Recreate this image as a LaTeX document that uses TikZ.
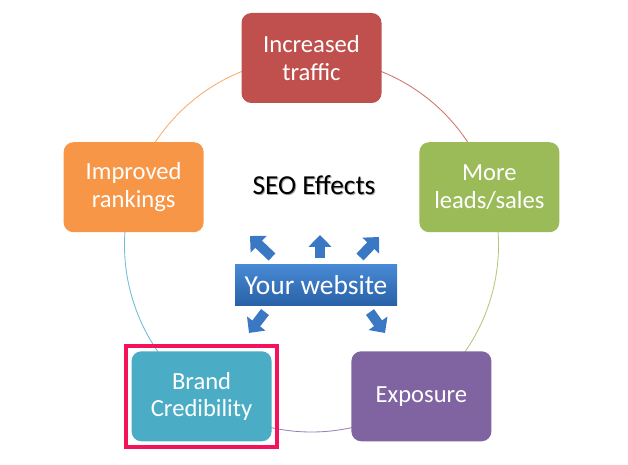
\documentclass[tikz,border=0pt]{standalone}
\usepackage{fontspec}
\setmainfont{Carlito}
\usetikzlibrary{arrows.meta,fit}

\definecolor{trafficred}{HTML}{C0504D}
\definecolor{leadsgreen}{HTML}{9BBB59}
\definecolor{exposurepurple}{HTML}{8064A2}
\definecolor{brandteal}{HTML}{4BACC6}
\definecolor{rankorange}{HTML}{F79646}
\definecolor{webblue}{HTML}{3A78C4}
\definecolor{webtop}{RGB}{72,137,212}
\definecolor{webbottom}{RGB}{40,96,166}
\definecolor{framepink}{HTML}{F2135B}

\tikzset{
  effect/.style={rounded corners=7pt, minimum width=3.5cm, minimum height=2.25cm,
    text=white, align=center, font=\fontsize{17.5}{19.5}\selectfont},
  blockarrow/.style={-{Triangle[width=16pt,length=8.5pt]}, line width=7pt, webblue},
}

\begin{document}
\begin{tikzpicture}
  \useasboundingbox (0,0) rectangle (15.7,11.6);
  \coordinate (c) at (7.7875,5.475);
  % cycle arcs
  \foreach \a/\b/\col in {90/18/trafficred, 18/-54/leadsgreen, -54/-126/exposurepurple,
      -126/-198/brandteal, 162/90/rankorange}
    \draw[\col!80, line width=0.6pt] (c) ++(\a:4.675) arc[start angle=\a, end angle=\b, radius=4.675];
  % effects
  \path (c) ++(90:4.675) node[effect, fill=trafficred] (traffic) {Increased\\traffic};
  \path (c) ++(18:4.675) node[effect, fill=leadsgreen] (leads) {More\\leads/sales};
  \path (c) ++(-54:4.675) node[effect, fill=exposurepurple] (exposure) {Exposure};
  \path (c) ++(-126:4.675) node[effect, fill=brandteal] (brand) {Brand\\Credibility};
  \path (c) ++(162:4.675) node[effect, fill=rankorange] (rankings) {Improved\\rankings};
  % highlight
  \node[draw=framepink, line width=2.8pt, fit=(brand), inner sep=0.13cm] (frame) {};
  % centre
  \node[text=black!35, font=\fontsize{19.5}{22}\selectfont] at (7.875,6.95) {SEO Effects};
  \node[font=\fontsize{19.5}{22}\selectfont] (seo) at (7.85,6.975) {SEO Effects};
  \node[top color=webtop, bottom color=webbottom,
    minimum width=4.05cm, minimum height=1.025cm, inner sep=0pt, text=white,
    font=\fontsize{19.5}{22}\selectfont] (web) at (7.9,4.4625) {Your website};
  % arrows
  \foreach \name/\tx/\ty/\hx/\hy in {up/8.0/5.15/8.0/5.725, ul/6.8/5.175/6.25/5.7,
      ur/9.0/5.175/9.475/5.675, ll/6.625/3.8/6.225/3.275, lr/9.25/3.8/9.625/3.275} {
    \coordinate (\name-tail) at (\tx,\ty);
    \coordinate (\name-tip) at (\hx,\hy);
    \draw[blockarrow] (\name-tail) -- (\name-tip);
  }
\end{tikzpicture}
\end{document}
